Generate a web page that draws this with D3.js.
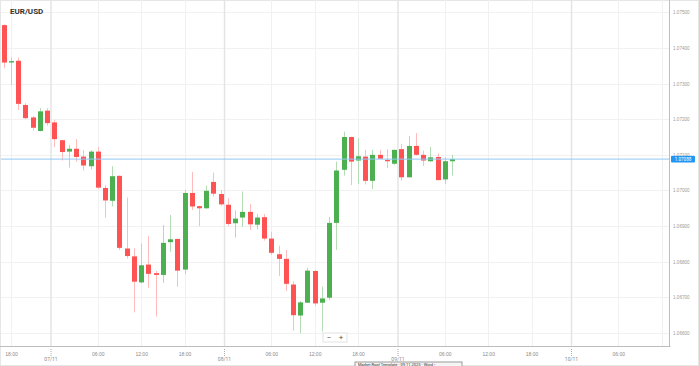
<!DOCTYPE html>
<html><head><meta charset="utf-8">
<script src="https://cdn.jsdelivr.net/npm/d3@7"></script>
<style>
body{margin:0;background:#fff;}
svg{display:block;font-family:Roboto,"Liberation Sans",Arial,sans-serif;}
</style>
</head><body>
<svg id="chart" width="699" height="366"></svg>
<script>
// ---- data (hourly EUR/USD candles, first candle 06/11 17:00 UTC) ----
const firstCandle = "2023-11-06T17:00:00Z";
const open  = [1.07464,1.07359,1.07364,1.07240,1.07205,1.07167,1.07224,1.07191,1.07141,1.07109,
               1.07117,1.07095,1.07068,1.07109,1.07007,1.06971,1.07041,1.06837,1.06815,1.06742,
               1.06792,1.06768,1.06763,1.06855,1.06864,1.06778,1.06993,1.06956,1.06950,1.07024,
               1.06990,1.06960,1.06908,1.06924,1.06940,1.06904,1.06925,1.06865,1.06821,1.06808,
               1.06736,1.06649,1.06685,1.06774,1.06685,1.06699,1.06909,1.07058,1.07150,1.07084,
               1.07095,1.07027,1.07100,1.07086,1.07075,1.07116,1.07037,1.07125,1.07100,1.07082,
               1.07094,1.07031,1.07082];
const high  = [1.07466,1.07373,1.07373,1.07245,1.07209,1.07231,1.07231,1.07198,1.07142,1.07128,
               1.07144,1.07114,1.07113,1.07122,1.07015,1.07068,1.07042,1.06980,1.06838,1.06851,
               1.06872,1.06774,1.06903,1.06931,1.06865,1.07001,1.07052,1.06957,1.07013,1.07050,
               1.07001,1.06978,1.06944,1.06997,1.06962,1.06934,1.06934,1.06884,1.06845,1.06833,
               1.06745,1.06690,1.06783,1.06777,1.06730,1.06926,1.07081,1.07165,1.07151,1.07146,
               1.07114,1.07114,1.07114,1.07116,1.07115,1.07131,1.07153,1.07161,1.07112,1.07122,
               1.07104,1.07093,1.07100];
const low   = [1.07343,1.07296,1.07226,1.07200,1.07168,1.07166,1.07182,1.07122,1.07084,1.07064,
               1.07081,1.07056,1.07059,1.07005,1.06924,1.06955,1.06833,1.06809,1.06658,1.06740,
               1.06727,1.06646,1.06741,1.06828,1.06730,1.06765,1.06945,1.06900,1.06949,1.06983,
               1.06957,1.06900,1.06868,1.06897,1.06889,1.06891,1.06859,1.06819,1.06760,1.06718,
               1.06606,1.06599,1.06684,1.06677,1.06604,1.06693,1.06833,1.07042,1.07015,1.07018,
               1.07017,1.07004,1.07088,1.07063,1.07072,1.07027,1.07036,1.07098,1.07069,1.07081,
               1.07028,1.07018,1.07042];
const close = [1.07359,1.07363,1.07243,1.07203,1.07176,1.07222,1.07189,1.07144,1.07108,1.07117,
               1.07094,1.07070,1.07109,1.07008,1.06972,1.07040,1.06839,1.06816,1.06744,1.06790,
               1.06766,1.06763,1.06853,1.06863,1.06775,1.06993,1.06955,1.06950,1.06999,1.06991,
               1.06961,1.06906,1.06921,1.06940,1.06905,1.06924,1.06865,1.06825,1.06808,1.06738,
               1.06650,1.06686,1.06775,1.06683,1.06697,1.06909,1.07056,1.07150,1.07081,1.07096,
               1.07027,1.07100,1.07089,1.07082,1.07114,1.07037,1.07125,1.07100,1.07084,1.07093,
               1.07029,1.07082,1.07088];
const priceTicks = [1.066,1.067,1.068,1.069,1.070,1.071,1.072,1.073,1.074,1.075];
const lastPrice = 1.07088;
const symbol = "EUR/USD";
const taskbarText = "Market Roof Template - 09.11.2023 - Word";

// ---- layout ----
const W = 699, H = 366, plotR = 670, plotB = 347;
const svg = d3.select("#chart");
const t0 = new Date(firstCandle);
const times = open.map((_, i) => d3.utcHour.offset(t0, i));

const x = d3.scaleUtc()
  .domain([t0, new Date("2023-11-10T06:00:00Z")])
  .range([3.8, 618.3]);
const y = d3.scaleLinear().domain([1.066, 1.075]).range([333, 12.3]);

// frame
svg.append("rect").attr("x",0.5).attr("y",0.5).attr("width",W-1).attr("height",H-1)
  .attr("fill","#fff").attr("stroke","#e6e6e6");

const gridG = svg.append("g");
// horizontal grid
gridG.selectAll("line.h").data(priceTicks).join("line")
  .attr("x1",1).attr("x2",plotR).attr("y1",d=>Math.round(y(d))+0.5).attr("y2",d=>Math.round(y(d))+0.5)
  .attr("stroke","#f1f1f1");
// vertical grid every 6h
const tStart = x.invert(0), tEnd = x.invert(plotR);
const sixH = d3.utcHour.every(6).range(d3.utcHour.ceil(tStart), tEnd);
const nonMid = sixH.filter(d => d.getUTCHours() !== 0);
const mids = sixH.filter(d => d.getUTCHours() === 0);
const dayPos = d => x(d) - 3.4;
gridG.selectAll("line.v").data(nonMid).join("line")
  .attr("x1",d=>Math.round(x(d))+0.5).attr("x2",d=>Math.round(x(d))+0.5).attr("y1",0).attr("y2",plotB)
  .attr("stroke","#f1f1f1");
gridG.selectAll("line.d").data(mids).join("line")
  .attr("x1",d=>dayPos(d)).attr("x2",d=>dayPos(d)).attr("y1",0).attr("y2",plotB)
  .attr("stroke","#e4e4e4").attr("stroke-width",1.5);

// axes lines
svg.append("line").attr("x1",0).attr("x2",plotR+0.5).attr("y1",plotB-0.5).attr("y2",plotB-0.5)
  .attr("stroke","#bdbdbd");
svg.append("line").attr("x1",plotR-0.5).attr("x2",plotR-0.5).attr("y1",0).attr("y2",plotB)
  .attr("stroke","#bdbdbd");

// right axis via d3.axisRight
const yAxis = d3.axisRight(y).tickValues(priceTicks).tickFormat(d3.format(".5f")).tickSize(0).tickPadding(3);
const yg = svg.append("g").attr("transform",`translate(${plotR},0)`).call(yAxis);
yg.select(".domain").remove();
yg.selectAll("text").attr("fill","#9a9a9a").attr("font-size","4.6px");

// bottom axis (labels only where the reference shows them)
const labelled = nonMid.filter(d => x(d) < 640);
const xAxis = d3.axisBottom(x).tickValues(labelled).tickFormat(d3.utcFormat("%H:%M")).tickSize(0).tickPadding(5);
const xg = svg.append("g").attr("transform",`translate(0,${plotB})`).call(xAxis);
xg.select(".domain").remove();
xg.selectAll("text").attr("fill","#8a8a8a").attr("font-size","5px");
// date labels + dotted ticks
const dg = svg.append("g");
dg.selectAll("text").data(mids).join("text")
  .attr("x",d=>dayPos(d)).attr("y",361.3).attr("text-anchor","middle")
  .attr("fill","#8a8a8a").attr("font-size","5px").text(d3.utcFormat("%d/%m"));
dg.selectAll("line").data(mids).join("line")
  .attr("x1",d=>dayPos(d)).attr("x2",d=>dayPos(d)).attr("y1",plotB+2).attr("y2",plotB+9)
  .attr("stroke","#aaa").attr("stroke-dasharray","1,1");

// candles
const cg = svg.append("g");
const up = i => close[i] >= open[i];
const cand = cg.selectAll("g").data(times).join("g");
cand.append("line")
  .attr("x1",(d)=>Math.round(x(d))+0.5).attr("x2",(d)=>Math.round(x(d))+0.5)
  .attr("y1",(d,i)=>y(high[i])).attr("y2",(d,i)=>y(low[i]))
  .attr("stroke",(d,i)=>up(i)?"#b3dcb4":"#ffbcbc").attr("stroke-width",1);
cand.append("rect")
  .attr("x",(d)=>Math.round(x(d))-2).attr("width",5)
  .attr("y",(d,i)=>y(Math.max(open[i],close[i])))
  .attr("height",(d,i)=>Math.max(1.2, Math.abs(y(open[i])-y(close[i]))))
  .attr("fill",(d,i)=>up(i)?"#4caf50":"#ff5252");

// current price line & label
svg.append("line").attr("x1",1).attr("x2",plotR).attr("y1",y(lastPrice)).attr("y2",y(lastPrice))
  .attr("stroke","#90c8f4").attr("stroke-width",1);
svg.append("rect").attr("x",671).attr("y",y(lastPrice)-3.3).attr("width",24).attr("height",6.6)
  .attr("rx",1).attr("fill","#2196f3");
svg.append("text").attr("x",683).attr("y",y(lastPrice)).attr("dy","0.35em").attr("text-anchor","middle")
  .attr("fill","#fff").attr("font-size","4.6px").text(d3.format(".5f")(lastPrice));

// title
svg.append("text").attr("x",10).attr("y",14).attr("font-size","8px").attr("font-weight","bold")
  .attr("fill","#333").text(symbol);

// zoom buttons
const zb = svg.append("g").attr("transform","translate(323,333)");
zb.append("rect").attr("width",24).attr("height",9).attr("fill","#fff").attr("stroke","#e2e2e2");
zb.append("text").attr("x",6).attr("y",7).attr("font-size","8px").attr("fill","#555").attr("text-anchor","middle").text("−");
zb.append("text").attr("x",18).attr("y",7.2).attr("font-size","8px").attr("fill","#555").attr("text-anchor","middle").text("+");

// taskbar tooltip overlay
const tb = svg.append("g").attr("transform","translate(355,362)");
tb.append("rect").attr("width",107).attr("height",8).attr("fill","#f5f5f5").attr("stroke","#9a9a9a");
tb.append("text").attr("x",3).attr("y",3.8).attr("font-size","4px").attr("fill","#333").text(taskbarText + " ›");
</script>
</body></html>
